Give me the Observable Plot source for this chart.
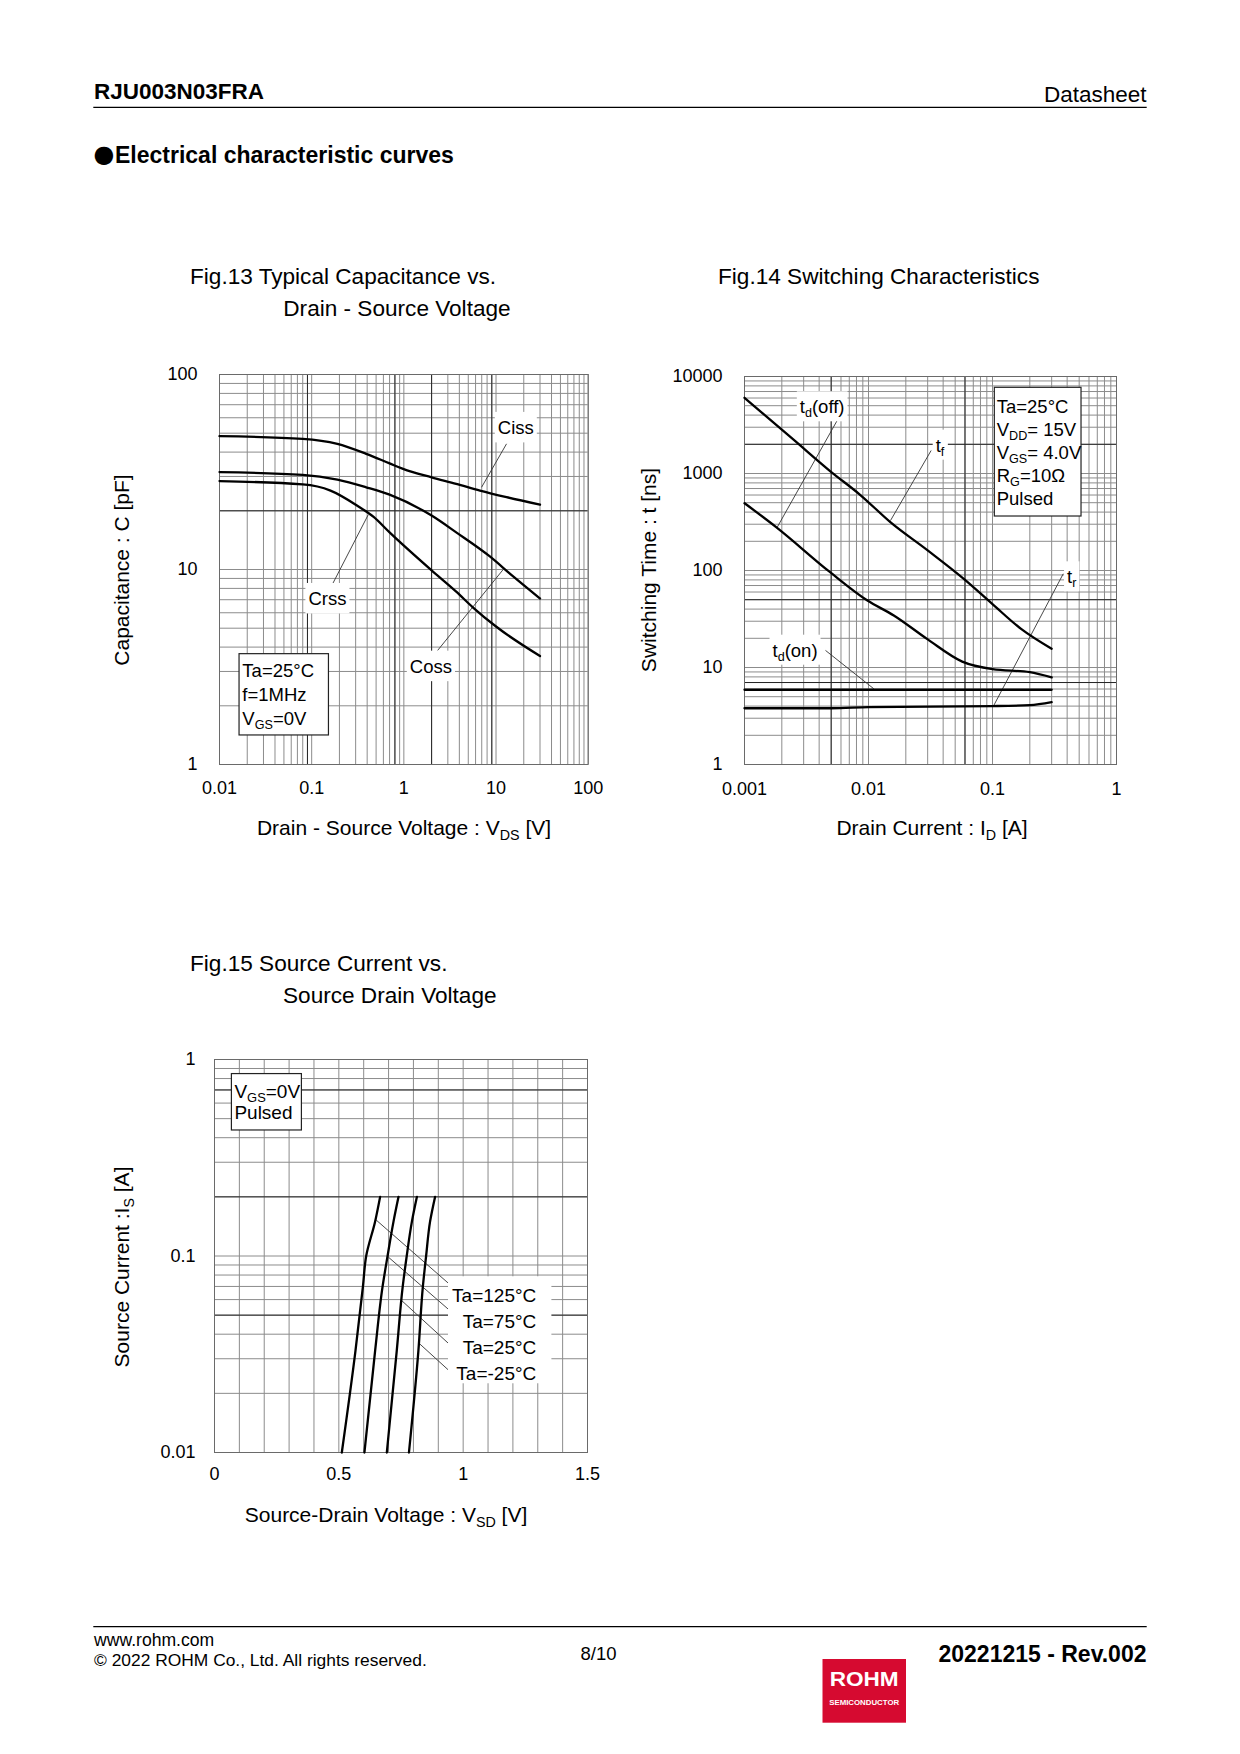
<!DOCTYPE html>
<html>
<head>
<meta charset="utf-8">
<title>RJU003N03FRA – Electrical characteristic curves</title>
<script src="https://cdn.jsdelivr.net/npm/d3@7"></script>
<script src="https://cdn.jsdelivr.net/npm/@observablehq/plot@0.6"></script>
<style>
  html, body { margin: 0; padding: 0; background: #fff; }
  #page { position: relative; width: 1240px; height: 1754px; overflow: hidden; background: #fff;
          font-family: "Liberation Sans", Arial, Helvetica, sans-serif; }
  #overlay { position: absolute; left: 0; top: 0; pointer-events: none; }
  text { white-space: pre; }
</style>
</head>
<body>
<div id="page"></div>
<script>
// ================= DATA =================
// Fig.13 Typical Capacitance vs. Drain - Source Voltage  (VDS [V], C [pF])
const cissVds = [0.01, 0.08, 0.19, 0.39, 0.70, 0.98, 2.0, 3.7, 6.7, 13, 30];
const cissPf  = [48.3, 46.8, 44.1, 39.2, 35.0, 32.8, 29.7, 27.5, 25.4, 23.5, 21.5];
const cossVds = [0.01, 0.08, 0.19, 0.39, 0.70, 2.0, 3.7, 8.5, 15, 30];
const cossPf  = [31.6, 30.6, 28.9, 26.4, 24.2, 18.9, 15.5, 11.7, 9.3, 7.1];
const crssVds = [0.01, 0.08, 0.16, 0.31, 0.47, 0.70, 2.0, 3.7, 5.6, 10, 30];
const crssPf  = [28.4, 27.3, 25.4, 21.3, 18.6, 15.5, 9.9, 7.7, 6.4, 5.1, 3.6];
const capXTicks = [0.01, 0.1, 1, 10, 100];
const capXTickLabels = ["0.01", "0.1", "1", "10", "100"];
const capYTicks = [1, 10, 100];
const capYTickLabels = ["1", "10", "100"];
const capDarkGridX = [0.09, 0.8, 2, 9];
const capDarkGridY = [20];

// Fig.14 Switching Characteristics  (ID [A], t [ns])
const tfId    = [0.001, 0.0025, 0.0049, 0.0086, 0.015, 0.030, 0.060, 0.10, 0.17, 0.30];
const tfNs    = [6030, 2220, 1060, 600, 315, 161, 80, 45, 25, 15.6];
const tdoffId = [0.001, 0.0018, 0.0049, 0.0098, 0.016, 0.030, 0.057, 0.10, 0.20, 0.30];
const tdoffNs = [494, 280, 96, 49, 34.4, 19.5, 11.5, 9.6, 8.95, 7.9];
const tdonId  = [0.001, 0.01, 0.1, 0.3];
const tdonNs  = [5.9, 5.9, 5.9, 5.9];
const trId    = [0.001, 0.005, 0.01, 0.1, 0.2, 0.3];
const trNs    = [3.8, 3.8, 3.9, 4.0, 4.1, 4.4];
const swXTicks = [0.001, 0.01, 0.1, 1];
const swXTickLabels = ["0.001", "0.01", "0.1", "1"];
const swYTicks = [1, 10, 100, 1000, 10000];
const swYTickLabels = ["1", "10", "100", "1000", "10000"];
const swDarkGridX = [0.005, 0.06];
const swDarkGridY = [7, 50, 2000];

// Fig.15 Source Current vs. Source Drain Voltage  (VSD [V], IS [A])
const isA    = [0.01, 0.033, 0.07, 0.1, 0.15, 0.2];
const vsd125 = [0.512, 0.567, 0.597, 0.610, 0.646, 0.666];
const vsd75  = [0.603, 0.646, 0.676, 0.696, 0.720, 0.740];
const vsd25  = [0.693, 0.733, 0.757, 0.773, 0.794, 0.814];
const vsdM25 = [0.782, 0.820, 0.838, 0.851, 0.867, 0.887];
const sdXTicks = [0, 0.5, 1, 1.5];
const sdXTickLabels = ["0", "0.5", "1", "1.5"];
const sdYTicks = [0.01, 0.1, 1];
const sdYTickLabels = ["0.01", "0.1", "1"];
const sdTempLabels = ["Ta=125°C", "Ta=75°C", "Ta=25°C", "Ta=-25°C"];
const sdDarkGridY = [0.05, 0.2, 0.7];

// ================= ANNOTATIONS (data coordinates) =================
const capLabels = [
  {segs: ["Ciss"], x: 16.6, y: 49.3},
  {segs: ["Crss"], x: 0.150, y: 6.54},
  {segs: ["Coss"], x: 1.99, y: 2.94}
];
const capLeaders = [
  {x1: 13.0, y1: 44.1, x2: 6.97, y2: 26.4},
  {x1: 0.169, y1: 8.45, x2: 0.411, y2: 19.1},
  {x1: 2.32, y1: 3.84, x2: 11.9, y2: 9.97}
];
const capCond = {x: 0.0165, y: 3.68, lines: [["Ta=25°C"], ["f=1MHz"], ["V", {sub: "GS"}, "=0V"]]};

const swLabels = [
  {segs: ["t", {sub: "d"}, "(off)"], x: 0.00427, y: 4125},
  {segs: ["t", {sub: "f"}], x: 0.0381, y: 1659},
  {segs: ["t", {sub: "r"}], x: 0.4395, y: 72.9},
  {segs: ["t", {sub: "d"}, "(on)"], x: 0.00258, y: 12.77}
];
const swLeaders = [
  {x1: 0.00559, y1: 3519, x2: 0.001835, y2: 279},
  {x1: 0.0320, y1: 1726, x2: 0.01504, y2: 327},
  {x1: 0.372, y1: 92.5, x2: 0.1024, y2: 4.06},
  {x1: 0.0045, y1: 15.0, x2: 0.01104, y2: 6.03}
];
const swCond = {x: 0.1044, y: 7646, lines: [["Ta=25°C"], ["V", {sub: "DD"}, "= 15V"], ["V", {sub: "GS"}, "= 4.0V"], ["R", {sub: "G"}, "=10Ω"], ["Pulsed"]]};

const sdLeaders = [
  {x1: 0.650, y1: 0.1525, x2: 0.941, y2: 0.0726},
  {x1: 0.700, y1: 0.0985, x2: 0.941, y2: 0.0535},
  {x1: 0.7535, y1: 0.0592, x2: 0.941, y2: 0.0359},
  {x1: 0.820, y1: 0.0362, x2: 0.941, y2: 0.02626}
];
const sdLabelBlock = {x: 0.941, y: 0.0784};
const sdCond = {x: 0.070, y: 0.843, lines: [["V", {sub: "GS"}, "=0V"], ["Pulsed"]]};

// ================= HELPERS =================
const FONT = '"Liberation Sans", Arial, Helvetica, sans-serif';
const GRID = "#8c8c8c", DARK = "#262626", FRAME = "#6a6a6a", INK = "#000", LEAD = "#333";
const page = document.getElementById("page");
const tbl = (xs, ys) => xs.map((x, i) => ({x, y: ys[i]}));
const fmt = (ticks, labels) => d => labels[ticks.indexOf(d)];

function rich(sel, segs, fs) {
  let back = 0;
  segs.forEach(s => {
    if (typeof s === "string") {
      const t = sel.append("tspan").text(s);
      if (back) { t.attr("dy", -back); back = 0; }
    } else {
      const d = +(fs * 0.22).toFixed(2);
      sel.append("tspan").attr("font-size", +(fs * 0.68).toFixed(2)).attr("dy", d).text(s.sub);
      back = d;
    }
  });
  return sel;
}

function mount(plot, left, top) {
  plot.style.position = "absolute";
  plot.style.left = left + "px";
  plot.style.top = top + "px";
  page.appendChild(plot);
  return plot;
}

function labelBox(g, px, py, segs, fs, above = 22, below = 8.5) {
  const t = g.append("text").attr("x", px).attr("y", py).attr("text-anchor", "middle")
    .attr("font-size", fs).attr("fill", INK);
  rich(t, segs, fs);
  const bb = t.node().getBBox();
  g.insert("rect", () => t.node()).attr("x", bb.x - 3).attr("y", py - above)
    .attr("width", bb.width + 6).attr("height", above + below).attr("fill", "#fff");
}

function condBox(g, px, py, lines, fs, {w, h, padX, base0, gap}) {
  g.append("rect").attr("x", px).attr("y", py).attr("width", w).attr("height", h)
    .attr("fill", "#fff").attr("stroke", "#222").attr("stroke-width", 1.2);
  lines.forEach((segs, i) => {
    const t = g.append("text").attr("x", px + padX).attr("y", py + base0 + i * gap)
      .attr("text-anchor", "start").attr("font-size", fs).attr("fill", INK);
    rich(t, segs, fs);
  });
}

const baseStyle = {fontFamily: FONT, fontSize: "18px", background: "transparent", color: "#000", overflow: "visible"};
const gridX = (dom) => Plot.ruleX(d3.scaleLog().domain(dom).ticks(), {stroke: GRID, strokeWidth: 1});
const gridY = (dom) => Plot.ruleY(d3.scaleLog().domain(dom).ticks(), {stroke: GRID, strokeWidth: 1});
const darkX = (vals) => Plot.ruleX(vals, {stroke: DARK, strokeWidth: 1});
const darkY = (vals) => Plot.ruleY(vals, {stroke: DARK, strokeWidth: 1});
const curveStyle = {x: "x", y: "y", stroke: INK, strokeWidth: 2.3, curve: "monotone-x"};
const leadStyle = {x1: "x1", y1: "y1", x2: "x2", y2: "y2", stroke: LEAD, strokeWidth: 0.9};

// ================= FIG.13 =================
const p13 = Plot.plot({
  width: 529, height: 530,
  marginLeft: 120, marginRight: 40.3, marginTop: 40, marginBottom: 100,
  style: baseStyle,
  x: {type: "log", domain: [0.01, 100], axis: null},
  y: {type: "log", domain: [1, 100], axis: null},
  marks: [
    gridX([0.01, 100]), gridY([1, 100]),
    darkX(capDarkGridX), darkY(capDarkGridY),
    Plot.frame({stroke: FRAME, strokeWidth: 1}),
    Plot.link(capLeaders, leadStyle),
    Plot.line(tbl(cissVds, cissPf), curveStyle),
    Plot.line(tbl(cossVds, cossPf), curveStyle),
    Plot.line(tbl(crssVds, crssPf), curveStyle),
    Plot.axisX({ticks: capXTicks, tickFormat: fmt(capXTicks, capXTickLabels), tickSize: 0, tickPadding: 17, fontSize: 18, label: null}),
    Plot.axisY({ticks: capYTicks, tickFormat: fmt(capYTicks, capYTickLabels), tickSize: 0, tickPadding: 22, fontSize: 18, label: null})
  ]
});
mount(p13, 99.3, 334);

// ================= FIG.14 =================
const p14 = Plot.plot({
  width: 532, height: 528,
  marginLeft: 120, marginRight: 40, marginTop: 40, marginBottom: 100,
  style: baseStyle,
  x: {type: "log", domain: [0.001, 1], axis: null},
  y: {type: "log", domain: [1, 10000], axis: null},
  marks: [
    gridX([0.001, 1]), gridY([1, 10000]),
    darkX(swDarkGridX), darkY(swDarkGridY),
    Plot.frame({stroke: FRAME, strokeWidth: 1}),
    Plot.link(swLeaders, leadStyle),
    Plot.line(tbl(tfId, tfNs), curveStyle),
    Plot.line(tbl(tdoffId, tdoffNs), curveStyle),
    Plot.line(tbl(tdonId, tdonNs), curveStyle),
    Plot.line(tbl(trId, trNs), curveStyle),
    Plot.axisX({ticks: swXTicks, tickFormat: fmt(swXTicks, swXTickLabels), tickSize: 0, tickPadding: 18, fontSize: 18, label: null}),
    Plot.axisY({ticks: swYTicks, tickFormat: fmt(swYTicks, swYTickLabels), tickSize: 0, tickPadding: 22, fontSize: 18, label: null})
  ]
});
mount(p14, 624, 336);

// ================= FIG.15 =================
const p15 = Plot.plot({
  width: 533, height: 533,
  marginLeft: 120, marginRight: 40, marginTop: 40, marginBottom: 100,
  style: baseStyle,
  x: {type: "linear", domain: [0, 1.5], axis: null},
  y: {type: "log", domain: [0.01, 1], axis: null},
  marks: [
    Plot.ruleX(d3.ticks(0, 1.5, 15), {stroke: GRID, strokeWidth: 1}),
    gridY([0.01, 1]),
    darkY(sdDarkGridY),
    Plot.frame({stroke: FRAME, strokeWidth: 1}),
    Plot.link(sdLeaders, leadStyle),
    Plot.line(tbl(vsd125, isA), {...curveStyle, curve: "monotone-y"}),
    Plot.line(tbl(vsd75, isA), {...curveStyle, curve: "monotone-y"}),
    Plot.line(tbl(vsd25, isA), {...curveStyle, curve: "monotone-y"}),
    Plot.line(tbl(vsdM25, isA), {...curveStyle, curve: "monotone-y"}),
    Plot.axisX({ticks: sdXTicks, tickFormat: fmt(sdXTicks, sdXTickLabels), tickSize: 0, tickPadding: 15, fontSize: 18, label: null}),
    Plot.axisY({ticks: sdYTicks, tickFormat: fmt(sdYTicks, sdYTickLabels), tickSize: 0, tickPadding: 19, fontSize: 18, label: null})
  ]
});
mount(p15, 94.3, 1019.3);

// ================= IN-CHART ANNOTATIONS =================
const ANN = 18.5;
{
  const sx = p13.scale("x").apply, sy = p13.scale("y").apply;
  const g = d3.select(p13).append("g").attr("font-family", FONT);
  capLabels.forEach(l => labelBox(g, sx(l.x), sy(l.y), l.segs, ANN));
  condBox(g, sx(capCond.x), sy(capCond.y), capCond.lines, ANN, {w: 89.4, h: 81.3, padX: 3.3, base0: 23, gap: 24});
}
{
  const sx = p14.scale("x").apply, sy = p14.scale("y").apply;
  const g = d3.select(p14).append("g").attr("font-family", FONT);
  swLabels.forEach(l => labelBox(g, sx(l.x), sy(l.y), l.segs, ANN, 22, 8));
  condBox(g, sx(swCond.x), sy(swCond.y), swCond.lines, ANN, {w: 86.7, h: 128.7, padX: 2.4, base0: 25.4, gap: 23.1});
}
{
  const sx = p15.scale("x").apply, sy = p15.scale("y").apply;
  const g = d3.select(p15).append("g").attr("font-family", FONT);
  const bx = sx(sdLabelBlock.x), by = sy(sdLabelBlock.y);
  g.append("rect").attr("x", bx).attr("y", by).attr("width", 103.4).attr("height", 107).attr("fill", "#fff");
  sdTempLabels.forEach((s, i) => {
    g.append("text").attr("x", bx + 88.3).attr("y", by + 26 + i * 25.8).attr("text-anchor", "end")
      .attr("font-size", 19).attr("fill", INK).text(s);
  });
  condBox(g, sx(sdCond.x), sy(sdCond.y), sdCond.lines, 19, {w: 70, h: 56.4, padX: 3, base0: 24.7, gap: 21});
}

// ================= PAGE TEXT =================
const ov = d3.select(page).append("svg").attr("id", "overlay")
  .attr("width", 1240).attr("height", 1754).attr("font-family", FONT);

function ptext(x, y, segs, {fs = 18, anchor = "start", weight = "normal", rotate = 0, fill = INK} = {}) {
  const t = ov.append("text").attr("x", x).attr("y", y).attr("font-size", fs)
    .attr("text-anchor", anchor).attr("font-weight", weight).attr("fill", fill);
  if (rotate) t.attr("transform", `rotate(${rotate},${x},${y})`);
  return rich(t, segs, fs);
}

// header
ptext(94, 99.3, ["RJU003N03FRA"], {fs: 22.5, weight: "bold"});
ptext(1146.5, 101.5, ["Datasheet"], {fs: 22.5, anchor: "end"});
ov.append("line").attr("x1", 93.3).attr("x2", 1146.7).attr("y1", 107.3).attr("y2", 107.3)
  .attr("stroke", "#000").attr("stroke-width", 1.3);
ov.append("text").attr("x", 93.5).attr("y", 162).attr("font-size", 24)
  .attr("font-family", '"DejaVu Sans", sans-serif').attr("fill", INK).text("●");
ptext(115, 163.3, ["Electrical characteristic curves"], {fs: 23, weight: "bold"});

// figure titles
const TF = 22.6;
ptext(190, 284, ["Fig.13 Typical Capacitance vs."], {fs: TF});
ptext(283.3, 316.3, ["Drain - Source Voltage"], {fs: TF});
ptext(718, 284, ["Fig.14 Switching Characteristics"], {fs: TF});
ptext(190, 970.7, ["Fig.15 Source Current vs."], {fs: TF});
ptext(283, 1003.3, ["Source Drain Voltage"], {fs: TF});

// axis titles
const AF = 21;
ptext(404, 835, ["Drain - Source Voltage : V", {sub: "DS"}, " [V]"], {fs: AF, anchor: "middle"});
ptext(129, 570, ["Capacitance : C [pF]"], {fs: AF, anchor: "middle", rotate: -90});
ptext(932, 835, ["Drain Current : I", {sub: "D"}, " [A]"], {fs: AF, anchor: "middle"});
ptext(656, 570, ["Switching Time : t [ns]"], {fs: AF, anchor: "middle", rotate: -90});
ptext(386, 1522, ["Source-Drain Voltage : V", {sub: "SD"}, " [V]"], {fs: AF, anchor: "middle"});
ptext(129, 1267, ["Source Current :I", {sub: "S"}, " [A]"], {fs: AF, anchor: "middle", rotate: -90});

// footer
ov.append("line").attr("x1", 93.3).attr("x2", 1146.7).attr("y1", 1626.7).attr("y2", 1626.7)
  .attr("stroke", "#000").attr("stroke-width", 1.3);
ptext(94, 1645.5, ["www.rohm.com"], {fs: 17.6});
ptext(94, 1665.5, ["© 2022 ROHM Co., Ltd. All rights reserved."], {fs: 17.4});
ptext(580.5, 1660, ["8/10"], {fs: 18.5});
ptext(1146.5, 1662, ["20221215 - Rev.002"], {fs: 23, weight: "bold", anchor: "end"});
ov.append("rect").attr("x", 822.5).attr("y", 1659).attr("width", 83.5).attr("height", 63.7).attr("fill", "#d60a30");
ov.append("text").attr("x", 864.2).attr("y", 1686.3).attr("text-anchor", "middle").attr("font-size", 20)
  .attr("font-weight", "bold").attr("fill", "#fff").attr("textLength", 69).attr("lengthAdjust", "spacingAndGlyphs").text("ROHM");
ov.append("text").attr("x", 864.2).attr("y", 1704.5).attr("text-anchor", "middle").attr("font-size", 6.5)
  .attr("font-weight", "bold").attr("fill", "#fff").attr("textLength", 70).attr("lengthAdjust", "spacingAndGlyphs").text("SEMICONDUCTOR");
</script>
</body>
</html>
